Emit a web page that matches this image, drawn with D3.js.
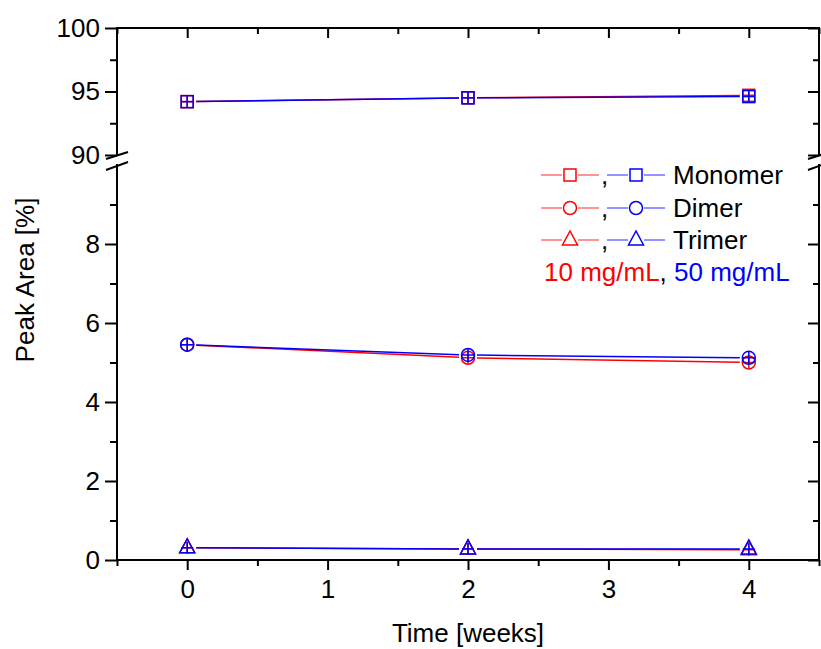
<!DOCTYPE html>
<html>
<head>
<meta charset="utf-8">
<script src="https://cdn.jsdelivr.net/npm/d3@7"></script>
<style>
  body { margin: 0; background: #fff; }
  svg text { font-family: "Liberation Sans", Arial, sans-serif; }
</style>
</head>
<body>
<svg id="chart" width="821" height="649"></svg>
<script>
// data
const weeks = [0, 2, 4];
const monomer10 = [94.2, 94.5, 94.7];
const monomer50 = [94.2, 94.5, 94.6];
const dimer10 = [5.45, 5.12, 5.00];
const dimer50 = [5.45, 5.19, 5.12];
const trimer10 = [0.31, 0.28, 0.26];
const trimer50 = [0.31, 0.28, 0.28];

const xTicks = [0, 1, 2, 3, 4];
const xMinor = [-0.5, 0.5, 1.5, 2.5, 3.5, 4.5];
const yLowTicks = [0, 2, 4, 6, 8];
const yLowMinor = [1, 3, 5, 7, 9];
const yHighTicks = [90, 95, 100];
const yHighMinor = [92.5, 97.5];

const legendNames = ["Monomer", "Dimer", "Trimer"];
const legendShapes = ["square", "circle", "triangle"];
const RED = "#ff0000", BLUE = "#0000ff";

const svg = d3.select("#chart");
const plotLeft = 117, plotRight = 819, plotTop = 28, plotBottom = 560;

const x = d3.scaleLinear().domain([-0.5, 4.5]).range([plotLeft, plotRight]);
const yLow = d3.scaleLinear().domain([0, 10]).range([plotBottom, 165]);
const yHigh = d3.scaleLinear().domain([90, 100]).range([155, plotTop]);

// ---- axes ----
function styleAxis(g) {
    g.select(".domain").remove();
    g.selectAll("line").attr("stroke", "#000").attr("stroke-width", 2);
    g.selectAll("text").attr("font-size", 26).attr("fill", "#000");
}

// bottom
svg.append("g").attr("transform", `translate(0,${plotBottom})`)
    .call(d3.axisBottom(x).tickValues(xTicks).tickSize(10).tickPadding(10).tickFormat(d3.format("d")))
    .call(styleAxis);
svg.append("g").attr("transform", `translate(0,${plotBottom})`)
    .call(d3.axisBottom(x).tickValues(xMinor).tickSize(6).tickFormat(""))
    .call(styleAxis);
// top (inward)
svg.append("g").attr("transform", `translate(0,${plotTop})`)
    .call(d3.axisBottom(x).tickValues(xTicks).tickSize(10).tickFormat(""))
    .call(styleAxis);
svg.append("g").attr("transform", `translate(0,${plotTop})`)
    .call(d3.axisBottom(x).tickValues(xMinor).tickSize(6).tickFormat(""))
    .call(styleAxis);

// left and right
[[yLow, yLowTicks, yLowMinor], [yHigh, yHighTicks, yHighMinor]].forEach(([s, maj, mn]) => {
    svg.append("g").attr("transform", `translate(${plotLeft},0)`)
        .call(d3.axisLeft(s).tickValues(maj).tickSize(12).tickPadding(5).tickFormat(d3.format("d")))
        .call(styleAxis);
    svg.append("g").attr("transform", `translate(${plotLeft},0)`)
        .call(d3.axisLeft(s).tickValues(mn).tickSize(7).tickFormat(""))
        .call(styleAxis);
    svg.append("g").attr("transform", `translate(${plotRight},0)`)
        .call(d3.axisLeft(s).tickValues(maj).tickSize(11).tickFormat(""))
        .call(styleAxis);
    svg.append("g").attr("transform", `translate(${plotRight},0)`)
        .call(d3.axisLeft(s).tickValues(mn).tickSize(6).tickFormat(""))
        .call(styleAxis);
});

// frame lines with break
const frame = svg.append("g").attr("stroke", "#000").attr("stroke-width", 2).attr("fill", "none");
frame.append("line").attr("x1", plotLeft - 1).attr("x2", plotRight + 1).attr("y1", plotTop).attr("y2", plotTop);
frame.append("line").attr("x1", plotLeft - 1).attr("x2", plotRight + 1).attr("y1", plotBottom).attr("y2", plotBottom);
[plotLeft, plotRight].forEach(px => {
    frame.append("line").attr("x1", px).attr("x2", px).attr("y1", plotTop).attr("y2", yHigh(90) + 1);
    frame.append("line").attr("x1", px).attr("x2", px).attr("y1", yLow(10) - 1).attr("y2", plotBottom);
    // break marks
    frame.append("line").attr("x1", px - 11).attr("y1", yHigh(90) + 4).attr("x2", px + 11).attr("y2", yHigh(90) - 3);
    frame.append("line").attr("x1", px - 11).attr("y1", yLow(10) + 5).attr("x2", px + 11).attr("y2", yLow(10) - 3);
});

// axis titles
svg.append("text").attr("x", 468).attr("y", 642)
    .attr("text-anchor", "middle").attr("font-size", 26).text("Time [weeks]");
svg.append("text").attr("transform", "translate(34,280) rotate(-90)")
    .attr("text-anchor", "middle").attr("font-size", 26).text("Peak Area [%]");

// ---- markers ----
function drawMarker(g, shape, cx, cy, color, cross) {
    const m = g.append("g").attr("stroke", color).attr("stroke-width", 1.5).attr("fill", "none");
    if (shape === "square") {
        m.append("rect").attr("x", cx - 6).attr("y", cy - 6).attr("width", 12).attr("height", 12);
    } else if (shape === "circle") {
        m.append("circle").attr("cx", cx).attr("cy", cy).attr("r", 6.5);
    } else {
        m.append("path").attr("d", `M${cx},${cy - 9}L${cx + 7.5},${cy + 5}L${cx - 7.5},${cy + 5}Z`);
    }
    if (cross) {
        m.append("line").attr("x1", cx).attr("x2", cx).attr("y1", cy - 6).attr("y2", cy + 6);
        m.append("line").attr("x1", cx - 6).attr("x2", cx + 6).attr("y1", cy).attr("y2", cy);
    }
}

const series = [
    { vals: monomer10, y: yHigh, shape: "square", color: RED },
    { vals: dimer10, y: yLow, shape: "circle", color: RED },
    { vals: trimer10, y: yLow, shape: "triangle", color: RED },
    { vals: monomer50, y: yHigh, shape: "square", color: BLUE },
    { vals: dimer50, y: yLow, shape: "circle", color: BLUE },
    { vals: trimer50, y: yLow, shape: "triangle", color: BLUE }
];

const plot = svg.append("g");
series.forEach(s => {
    const pts = weeks.map((w, i) => [x(w), s.y(s.vals[i])]);
    const gap = 9;
    for (let i = 0; i < pts.length - 1; i++) {
        const [x1, y1] = pts[i], [x2, y2] = pts[i + 1];
        const len = Math.hypot(x2 - x1, y2 - y1);
        const ux = (x2 - x1) / len, uy = (y2 - y1) / len;
        plot.append("line")
            .attr("x1", x1 + ux * gap).attr("y1", y1 + uy * gap)
            .attr("x2", x2 - ux * gap).attr("y2", y2 - uy * gap)
            .attr("stroke", s.color).attr("stroke-width", 1.5);
    }
    pts.forEach(p => drawMarker(plot, s.shape, p[0], p[1], s.color, true));
});

// ---- legend ----
const legend = svg.append("g");
const rowY = [175, 208, 240];
legendNames.forEach((name, i) => {
    const y = rowY[i];
    [[541, RED], [607, BLUE]].forEach(([x0, c]) => {
        legend.append("line").attr("x1", x0).attr("x2", x0 + 21).attr("y1", y).attr("y2", y)
            .attr("stroke", c).attr("stroke-width", 1.2).attr("stroke-opacity", 0.7);
        drawMarker(legend, legendShapes[i], x0 + 29, y, c, false);
        legend.append("line").attr("x1", x0 + 37).attr("x2", x0 + 58).attr("y1", y).attr("y2", y)
            .attr("stroke", c).attr("stroke-width", 1.2).attr("stroke-opacity", 0.7);
    });
    legend.append("text").attr("x", 601).attr("y", y + 9).attr("font-size", 26).text(",");
    legend.append("text").attr("x", 673).attr("y", y + 9).attr("font-size", 26).text(name);
});
const conc = legend.append("text").attr("x", 544).attr("y", 281).attr("font-size", 26);
conc.append("tspan").attr("fill", RED).text("10 mg/mL");
conc.append("tspan").attr("fill", "#000").text(", ");
conc.append("tspan").attr("fill", BLUE).text("50 mg/mL");
</script>
</body>
</html>
